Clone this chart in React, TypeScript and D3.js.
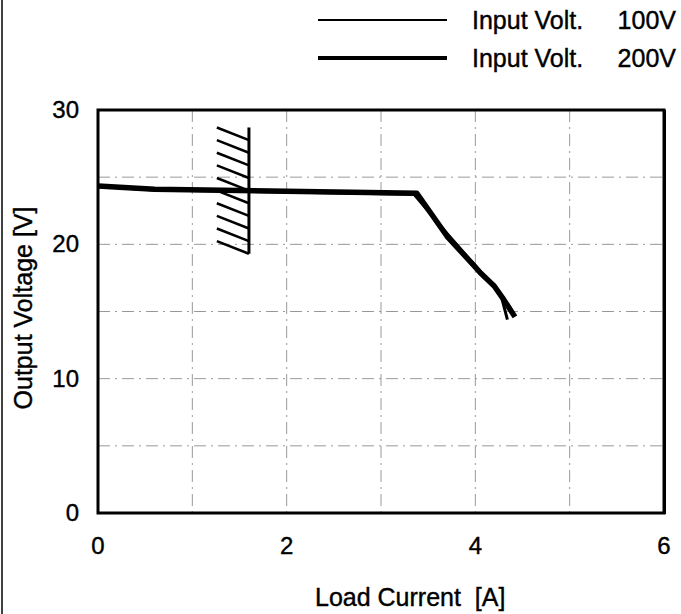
import React from "react";
import * as d3 from "d3";

const xTicks = [0, 2, 4, 6];
const yTicks = [0, 10, 20, 30];
const xGrid = [1, 2, 3, 4, 5];
const yGrid = [5, 10, 15, 20, 25];

const current100 = [0, 0.6, 1.5, 3.35, 3.7, 4.0, 4.05, 4.2, 4.28, 4.34];
const voltage100 = [24.3, 24.05, 23.95, 23.72, 20.8, 18.4, 18.0, 16.8, 16.0, 14.4];
const current200 = [0, 0.6, 1.5, 3.38, 3.7, 4.0, 4.05, 4.2, 4.3, 4.42];
const voltage200 = [24.35, 24.1, 24.0, 23.8, 20.6, 18.3, 17.9, 16.9, 15.9, 14.6];

const hatchStarts = [28.7, 27.76, 26.82, 25.88, 24.94, 24.0, 23.06, 22.12, 21.18, 20.24];
const hatchLeftX = 1.26;
const hatchRightX = 1.6;
const hatchDrop = 0.94;

const legendLabels = ["Input Volt.", "Input Volt."];
const legendValues = ["100V", "200V"];

const W = 681, H = 614;
const L = 98, R = 664, T = 110, B = 513;

export default function App() {
  const x = d3.scaleLinear().domain([0, 6]).range([L, R]);
  const y = d3.scaleLinear().domain([0, 30]).range([B, T]);
  const line = d3.line<[number, number]>().x(d => x(d[0])).y(d => y(d[1]));
  const d100 = line(current100.map((c, i) => [c, voltage100[i]]) as [number, number][]) || "";
  const d200 = line(current200.map((c, i) => [c, voltage200[i]]) as [number, number][]) || "";
  const font = "'Liberation Sans', Arial, sans-serif";
  const txt = { fill: "#000", stroke: "#000", strokeWidth: 0.4 };
  return (
    <svg width={W} height={H} style={{ position: "absolute", left: 0, top: 0, background: "#fff" }} fontFamily={font}>
      <rect x={0} y={0} width={W} height={H} fill="#fff" />
      <line x1={2} x2={2} y1={0} y2={H} stroke="#000" strokeWidth={1.5} />
      {/* legend */}
      <line x1={318} x2={447} y1={20} y2={20} stroke="#000" strokeWidth={2} />
      <line x1={318} x2={447} y1={58} y2={58} stroke="#000" strokeWidth={4} />
      {legendLabels.map((t, i) => (
        <text key={"l" + i} x={472} y={29 + i * 38} fontSize={25} {...txt}>{t}</text>
      ))}
      {legendValues.map((t, i) => (
        <text key={"v" + i} x={676} y={29 + i * 38} fontSize={25} textAnchor="end" {...txt}>{t}</text>
      ))}
      {/* grid */}
      {xGrid.map(g => (
        <line key={"gx" + g} x1={x(g)} x2={x(g)} y1={T} y2={B} stroke="#999" strokeWidth={1} strokeDasharray="12,5,2,5" />
      ))}
      {yGrid.map(g => (
        <line key={"gy" + g} x1={L} x2={R} y1={y(g)} y2={y(g)} stroke="#999" strokeWidth={1} strokeDasharray="12,5,2,5" />
      ))}
      {/* hatch */}
      <line x1={x(hatchRightX)} x2={x(hatchRightX)} y1={y(hatchStarts[0])} y2={y(hatchStarts[hatchStarts.length - 1] - hatchDrop)} stroke="#000" strokeWidth={3} />
      {hatchStarts.map((s, i) => (
        <line key={"h" + i} x1={x(hatchLeftX)} y1={y(s)} x2={x(hatchRightX)} y2={y(s - hatchDrop)} stroke="#000" strokeWidth={2.5} />
      ))}
      {/* curves */}
      <path d={d200} fill="none" stroke="#000" strokeWidth={5.5} strokeLinejoin="round" />
      <path d={d100} fill="none" stroke="#000" strokeWidth={3} strokeLinejoin="round" />
      {/* frame */}
      <rect x={L} y={T} width={R - L} height={B - T} fill="none" stroke="#000" strokeWidth={3} />
      <line x1={R + 1} x2={R + 1} y1={T} y2={B + 1} stroke="#000" strokeWidth={2} />
      {/* ticks */}
      {xTicks.map(t => (
        <text key={"xt" + t} x={x(t)} y={554} fontSize={24} textAnchor="middle" {...txt}>{t}</text>
      ))}
      {yTicks.map(t => (
        <text key={"yt" + t} x={79} y={y(t) + 8} fontSize={24} textAnchor="end" {...txt}>{t}</text>
      ))}
      <text x={315} y={606} fontSize={25} style={{ whiteSpace: "pre" }} {...txt}>Load Current  [A]</text>
      <text transform={`translate(32,${308}) rotate(-90)`} fontSize={25} textAnchor="middle" {...txt}>Output Voltage [V]</text>
    </svg>
  );
}
